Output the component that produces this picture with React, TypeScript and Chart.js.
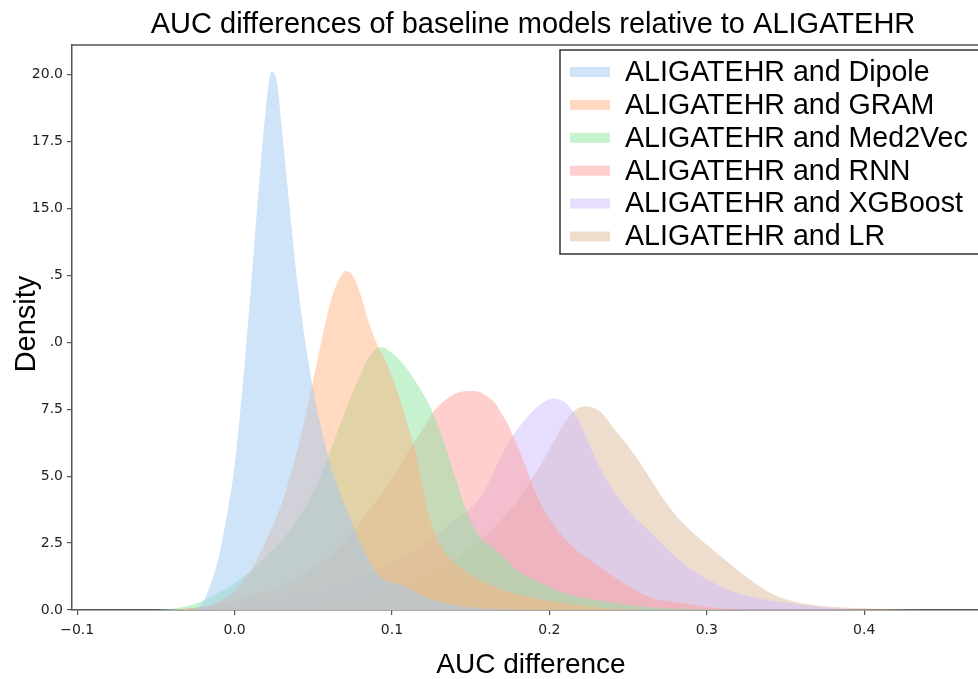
import React, { useEffect, useRef } from "react";
import { Chart, registerables } from "chart.js";

Chart.register(...registerables);

const titleText = "AUC differences of baseline models relative to ALIGATEHR";
const xAxisLabel = "AUC difference";
const yAxisLabel = "Density";

const seriesLabels = [
  "ALIGATEHR and Dipole",
  "ALIGATEHR and GRAM",
  "ALIGATEHR and Med2Vec",
  "ALIGATEHR and RNN",
  "ALIGATEHR and XGBoost",
  "ALIGATEHR and LR",
];

const seriesColors = [
  "rgba(161,201,244,0.5)",
  "rgba(255,180,130,0.5)",
  "rgba(141,229,161,0.5)",
  "rgba(255,159,155,0.5)",
  "rgba(208,187,255,0.5)",
  "rgba(222,187,155,0.5)",
];

const xTickValues = [-0.1, 0.0, 0.1, 0.2, 0.3, 0.4];
const yTickValues = [0, 2.5, 5, 7.5, 10, 12.5, 15, 17.5, 20];

const dipoleX = [-0.03, -0.025, -0.02, -0.015, -0.01, -0.005, 0.0, 0.005, 0.01, 0.015, 0.02, 0.0235, 0.027, 0.03, 0.035, 0.04, 0.045, 0.05, 0.055, 0.06, 0.065, 0.07, 0.075, 0.08, 0.085, 0.09, 0.095, 0.1, 0.105, 0.11, 0.115, 0.12, 0.13, 0.14, 0.15, 0.17, 0.2];
const dipoleY = [0, 0.05, 0.3, 1.0, 2.0, 3.5, 5.4, 8.3, 11.8, 15.5, 18.8, 20.1, 19.7, 18.0, 15.0, 12.2, 10.0, 8.2, 6.8, 5.6, 4.7, 3.9, 3.2, 2.5, 1.9, 1.4, 1.12, 1.02, 0.95, 0.82, 0.65, 0.5, 0.3, 0.17, 0.09, 0.02, 0];

const gramX = [-0.04, -0.03, -0.02, -0.01, 0.0, 0.01, 0.02, 0.03, 0.04, 0.05, 0.055, 0.06, 0.065, 0.071, 0.075, 0.08, 0.085, 0.09, 0.095, 0.1015, 0.109, 0.1145, 0.12, 0.125, 0.133, 0.143, 0.156, 0.174, 0.19, 0.21, 0.237, 0.26];
const gramY = [0, 0.05, 0.12, 0.3, 0.75, 1.45, 2.6, 4.0, 6.0, 8.6, 10.0, 11.3, 12.2, 12.67, 12.5, 11.8, 10.8, 10.0, 9.4, 8.5, 7.1, 6.0, 4.4, 3.2, 2.2, 1.6, 1.12, 0.68, 0.45, 0.25, 0.06, 0];

const med2vecX = [-0.05, -0.04, -0.03, -0.02, -0.01, 0.0, 0.01, 0.02, 0.03, 0.04, 0.05, 0.06, 0.07, 0.08, 0.087, 0.093, 0.1, 0.107, 0.117, 0.125, 0.1325, 0.14, 0.148, 0.156, 0.169, 0.179, 0.195, 0.21, 0.237, 0.26, 0.29, 0.32];
const med2vecY = [0, 0.05, 0.15, 0.35, 0.65, 1.0, 1.45, 2.0, 2.6, 3.4, 4.4, 5.8, 7.4, 8.8, 9.6, 9.83, 9.6, 9.2, 8.35, 7.5, 6.35, 5.0, 3.6, 2.75, 2.1, 1.5, 1.0, 0.62, 0.31, 0.12, 0.03, 0];

const rnnX = [-0.04, -0.03, -0.02, -0.01, 0.0, 0.01, 0.02, 0.03, 0.04, 0.05, 0.06, 0.07, 0.08, 0.09, 0.1, 0.11, 0.12, 0.127, 0.133, 0.14, 0.148, 0.155, 0.161, 0.166, 0.17, 0.174, 0.178, 0.185, 0.191, 0.199, 0.205, 0.211, 0.22, 0.226, 0.235, 0.244, 0.253, 0.262, 0.27, 0.278, 0.286, 0.293, 0.3, 0.31, 0.33];
const rnnY = [0, 0.05, 0.12, 0.25, 0.4, 0.55, 0.7, 0.9, 1.2, 1.6, 2.0, 2.6, 3.3, 4.1, 4.9, 5.9, 6.8, 7.45, 7.8, 8.07, 8.18, 8.15, 7.96, 7.7, 7.3, 6.9, 6.35, 5.35, 4.4, 3.5, 3.0, 2.6, 2.1, 1.87, 1.5, 1.12, 0.8, 0.52, 0.38, 0.31, 0.25, 0.18, 0.12, 0.05, 0];

const xgboostX = [-0.05, -0.03, -0.01, 0.01, 0.03, 0.055, 0.075, 0.094, 0.11, 0.12, 0.13, 0.14, 0.151, 0.159, 0.164, 0.169, 0.174, 0.179, 0.185, 0.19, 0.196, 0.2024, 0.207, 0.211, 0.2185, 0.226, 0.234, 0.242, 0.252, 0.265, 0.278, 0.291, 0.309, 0.327, 0.353, 0.38, 0.41];
const xgboostY = [0, 0.05, 0.15, 0.3, 0.5, 0.75, 1.1, 1.62, 2.1, 2.5, 2.9, 3.36, 3.86, 4.48, 5.1, 5.72, 6.25, 6.7, 7.15, 7.46, 7.75, 7.9, 7.85, 7.7, 7.1, 6.1, 5.1, 4.35, 3.6, 2.86, 2.1, 1.49, 0.87, 0.5, 0.25, 0.07, 0];

const lrX = [-0.02, 0.0, 0.03, 0.06, 0.09, 0.11, 0.13, 0.15, 0.16, 0.17, 0.18, 0.19, 0.2, 0.208, 0.216, 0.223, 0.2315, 0.242, 0.252, 0.262, 0.273, 0.283, 0.294, 0.309, 0.325, 0.341, 0.356, 0.38, 0.418, 0.44];
const lrY = [0, 0.05, 0.15, 0.35, 0.7, 1.1, 1.6, 2.3, 2.8, 3.4, 4.1, 5.0, 6.0, 6.84, 7.45, 7.6, 7.45, 6.7, 5.97, 5.1, 4.1, 3.36, 2.74, 2.0, 1.24, 0.62, 0.31, 0.12, 0.03, 0];

const seriesX = [dipoleX, gramX, med2vecX, rnnX, xgboostX, lrX];
const seriesY = [dipoleY, gramY, med2vecY, rnnY, xgboostY, lrY];

const TEXT_FONT = "'Liberation Sans', Arial, sans-serif";

const decorPlugin = {
  id: "decor",
  afterDraw(chart: any) {
    const { ctx, chartArea } = chart;
    ctx.save();
    ctx.strokeStyle = "#555";
    ctx.lineWidth = 1.5;
    ctx.beginPath();
    ctx.moveTo(chartArea.left, chartArea.top);
    ctx.lineTo(chartArea.right, chartArea.top);
    ctx.stroke();

    ctx.fillStyle = "#000";
    ctx.textAlign = "center";
    ctx.textBaseline = "alphabetic";
    ctx.font = `29px ${TEXT_FONT}`;
    ctx.fillText(titleText, 533, 33);

    ctx.font = `28px ${TEXT_FONT}`;
    ctx.fillText(xAxisLabel, 531, 673);

    ctx.save();
    ctx.translate(35, 324);
    ctx.rotate(-Math.PI / 2);
    ctx.font = `29px ${TEXT_FONT}`;
    ctx.fillText(yAxisLabel, 0, 0);
    ctx.restore();

    const boxL = 560, boxT = 50, boxW = 440, boxH = 204;
    ctx.fillStyle = "#fff";
    ctx.fillRect(boxL, boxT, boxW, boxH);
    ctx.strokeStyle = "#333";
    ctx.lineWidth = 1.5;
    ctx.strokeRect(boxL, boxT, boxW, boxH);
    ctx.textAlign = "left";
    ctx.textBaseline = "middle";
    ctx.font = `28.6px ${TEXT_FONT}`;
    chart.data.datasets.forEach((ds: any, i: number) => {
      const y = 72 + i * 32.9;
      ctx.fillStyle = ds.backgroundColor;
      ctx.fillRect(570, y - 5, 40, 10);
      ctx.fillStyle = "#000";
      ctx.fillText(ds.label, 625, y + 1);
    });
    ctx.restore();
  },
};

function fmtY(v: number): string {
  if (v === 12.5) return ".5";
  if (v === 10) return ".0";
  return v.toFixed(1);
}

function fmtX(v: number): string {
  const s = Math.abs(v).toFixed(1);
  return v < 0 ? "\u2212" + s : s;
}

export default function App() {
  const canvasRef = useRef<HTMLCanvasElement | null>(null);

  useEffect(() => {
    document.body.style.margin = "0";
    const canvas = canvasRef.current;
    if (!canvas) return;
    const datasets = seriesLabels.map((label, i) => ({
      label,
      data: seriesX[i].map((x, j) => ({ x, y: seriesY[i][j] })),
      backgroundColor: seriesColors[i],
      borderColor: "rgba(0,0,0,0)",
      borderWidth: 0,
      pointRadius: 0,
      pointHoverRadius: 0,
      fill: "origin",
      cubicInterpolationMode: "monotone" as const,
    }));

    const chart = new Chart(canvas, {
      type: "line",
      data: { datasets },
      plugins: [decorPlugin],
      options: {
        animation: false,
        responsive: true,
        maintainAspectRatio: false,
        layout: { padding: { top: 45, left: 0, right: 0, bottom: 0 } },
        plugins: {
          legend: { display: false },
          title: { display: false },
          tooltip: { enabled: false },
        },
        scales: {
          x: {
            type: "linear",
            min: -0.1033,
            max: 0.4723,
            afterBuildTicks: (s: any) => {
              s.ticks = xTickValues.map((v) => ({ value: v }));
            },
            afterFit: (s: any) => {
              s.height = 69;
            },
            grid: {
              display: true,
              drawOnChartArea: false,
              drawTicks: true,
              tickLength: 5,
              color: "#555",
              lineWidth: 1.2,
            },
            border: { display: true, color: "#555", width: 1.5 },
            ticks: {
              autoSkip: false,
              maxRotation: 0,
              padding: 7,
              color: "#222",
              font: { family: "'DejaVu Sans'", size: 14 },
              callback: (v: any) => fmtX(Number(v)),
            },
          },
          y: {
            type: "linear",
            min: 0,
            max: 21.11,
            afterBuildTicks: (s: any) => {
              s.ticks = yTickValues.map((v) => ({ value: v }));
            },
            afterFit: (s: any) => {
              s.width = 72;
            },
            grid: {
              display: true,
              drawOnChartArea: false,
              drawTicks: true,
              tickLength: 5,
              color: "#555",
              lineWidth: 1.2,
            },
            border: { display: true, color: "#555", width: 1.5 },
            ticks: {
              autoSkip: false,
              padding: 4,
              color: "#222",
              font: { family: "'DejaVu Sans'", size: 14 },
              callback: (v: any) => fmtY(Number(v)),
            },
          },
        },
      },
    } as any);

    return () => {
      chart.destroy();
    };
  }, []);

  return (
    <div style={{ width: 978, height: 679, position: "relative", background: "#fff" }}>
      <canvas ref={canvasRef} />
    </div>
  );
}
